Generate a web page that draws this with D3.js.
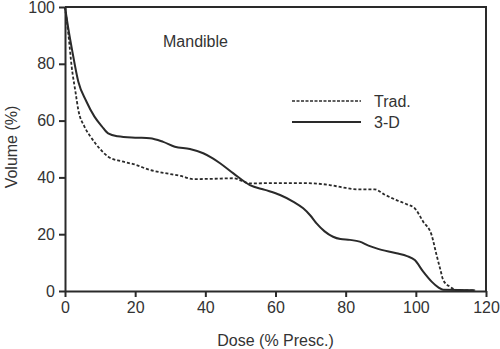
<!DOCTYPE html>
<html>
<head>
<meta charset="utf-8">
<script src="https://cdn.jsdelivr.net/npm/d3@7"></script>
<style>
  body { margin: 0; background: #fff; }
  svg { display: block; font-family: "Liberation Sans", Arial, sans-serif; }
</style>
</head>
<body>
<div class="canvas"></div>
<script>
// dose-volume histogram, Mandible
const dose3D = [0, 1, 2, 3.8, 6, 8.4, 10.5, 12.3, 15, 20, 24.2, 28, 31.3, 35.6, 39.4, 42, 44.2, 48, 52.7, 57, 61.3, 65, 67.9, 70, 71.7, 74, 76.4, 78.5, 81.2, 84, 86.5, 88.8, 94.5, 97.5, 99.7, 102.1, 104.5, 106.5, 107.8, 116.8];
const vol3D = [100, 92, 85, 73.7, 67, 61.4, 58, 55.5, 54.5, 54, 53.8, 52.5, 50.8, 50, 48.5, 46.8, 45, 41.4, 37.3, 35.6, 33.8, 31.5, 29.1, 26.5, 23.8, 21, 19.1, 18.3, 18, 17.4, 16, 15, 13.3, 12.3, 10.9, 6.8, 3.3, 1.2, 0.4, 0.3];

const doseTrad = [0, 1, 1.9, 3, 3.8, 5.5, 7.6, 10, 12.3, 16, 20, 24.2, 29, 33, 36.5, 42, 48, 52.7, 60, 68, 75.5, 79, 83.1, 88.3, 91, 94.5, 97.5, 99.7, 102.1, 104.5, 105.9, 107, 107.8, 109.7, 112, 117];
const volTrad = [100, 90, 79, 70, 63.7, 58, 53.8, 50, 47.3, 45.7, 44.5, 42.6, 41.4, 40.5, 39.4, 39.5, 39.7, 37.9, 38, 38, 37.3, 36.5, 35.8, 35.8, 34, 32, 30.5, 29.1, 24.4, 19.7, 12.7, 7.5, 3.9, 1.5, 0.2, 0.2];

const xTicks = [0, 20, 40, 60, 80, 100, 120];
const yTicks = [0, 20, 40, 60, 80, 100];

const width = 500;
const height = 349;
const margin = {top: 7, right: 14, bottom: 58, left: 65};
const graphWidth = width - margin.left - margin.right;
const graphHeight = height - margin.top - margin.bottom;
const ink = '#2a2a2a';

const svg = d3.select('.canvas')
  .append('svg')
  .attr('width', width)
  .attr('height', height);

const graph = svg.append('g')
  .attr('transform', `translate(${margin.left}, ${margin.top})`);

const x = d3.scaleLinear().domain([0, 120]).range([0, graphWidth]);
const y = d3.scaleLinear().domain([0, 100]).range([graphHeight, 0]);

// frame top + right
graph.append('path')
  .attr('d', `M0,0H${graphWidth}V${graphHeight}`)
  .attr('fill', 'none')
  .attr('stroke', ink)
  .attr('stroke-width', 2);

const gXAxis = graph.append('g')
  .attr('transform', `translate(0, ${graphHeight})`)
  .call(d3.axisBottom(x).tickValues(xTicks).tickSize(6).tickSizeOuter(0).tickPadding(5));
const gYAxis = graph.append('g')
  .call(d3.axisLeft(y).tickValues(yTicks).tickSize(6).tickSizeOuter(0).tickPadding(4));

[gXAxis, gYAxis].forEach(g => {
  g.select('.domain').attr('stroke', ink).attr('stroke-width', 2);
  g.selectAll('.tick line').attr('stroke', ink).attr('stroke-width', 2);
  g.selectAll('text').style('font-size', '16px').attr('fill', '#333');
});

// axis titles
svg.append('text')
  .attr('x', margin.left + graphWidth / 2)
  .attr('y', 346)
  .style('text-anchor', 'middle')
  .style('font-size', '16px')
  .attr('fill', '#333')
  .text('Dose (% Presc.)');

svg.append('text')
  .attr('transform', 'rotate(-90)')
  .attr('x', -147)
  .attr('y', 17)
  .style('text-anchor', 'middle')
  .style('font-size', '16px')
  .attr('fill', '#333')
  .text('Volume (%)');

svg.append('text')
  .attr('x', 163)
  .attr('y', 47)
  .style('font-size', '16px')
  .attr('fill', '#333')
  .text('Mandible');

// curves
const line = d3.line()
  .x(d => x(d[0]))
  .y(d => y(d[1]))
  .curve(d3.curveMonotoneX);

graph.append('path')
  .datum(doseTrad.map((d, i) => [d, volTrad[i]]))
  .attr('d', line)
  .attr('fill', 'none')
  .attr('stroke', ink)
  .attr('stroke-width', 1.8)
  .attr('stroke-dasharray', '3,2');

graph.append('path')
  .datum(dose3D.map((d, i) => [d, vol3D[i]]))
  .attr('d', line)
  .attr('fill', 'none')
  .attr('stroke', ink)
  .attr('stroke-width', 2);

// legend
const legend = svg.append('g');
const items = [
  {name: 'Trad.', dash: '3,1.5', y: 101},
  {name: '3-D', dash: null, y: 122}
];
items.forEach(it => {
  legend.append('line')
    .attr('x1', 292).attr('x2', 361)
    .attr('y1', it.y).attr('y2', it.y)
    .attr('stroke', ink)
    .attr('stroke-width', it.dash ? 1.5 : 2)
    .attr('stroke-dasharray', it.dash);
  legend.append('text')
    .attr('x', 374)
    .attr('y', it.y + 6)
    .style('font-size', '16px')
    .attr('fill', '#333')
    .text(it.name);
});
</script>
</body>
</html>
